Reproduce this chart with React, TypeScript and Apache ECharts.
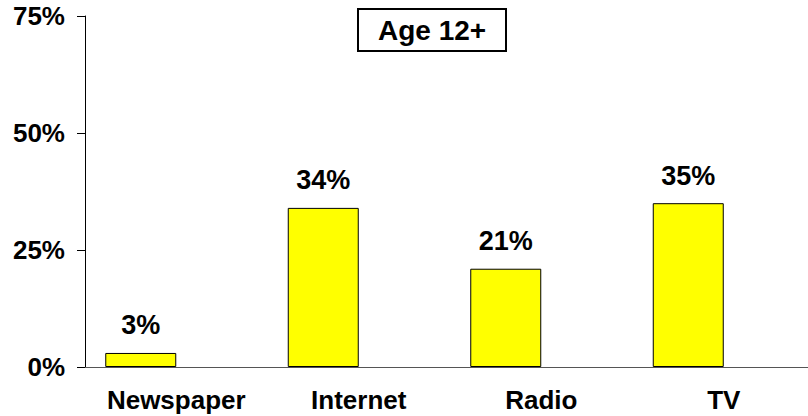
import React, { useEffect, useRef } from "react";
import * as echarts from "echarts";

const categories = ["Newspaper", "Internet", "Radio", "TV"];
const values = [3, 34, 21, 35];
const yTicks = [0, 25, 50, 75];
const titleText = "Age 12+";

const FONT = "'Liberation Sans', Arial, sans-serif";

export default function App() {
  const ref = useRef<HTMLDivElement>(null);
  useEffect(() => {
    if (!ref.current) return;
    const chart = echarts.init(ref.current, null, { renderer: "svg" });
    chart.setOption({
      animation: false,
      backgroundColor: "#ffffff",
      title: {
        text: titleText,
        left: 358,
        top: 9,
        padding: [7, 20, 7, 20],
        borderColor: "#000",
        borderWidth: 2,
        textStyle: { fontFamily: FONT, fontWeight: "bold", fontSize: 28, color: "#000" },
      },
      grid: { left: 85, top: 16, bottom: 49, width: 730 },
      xAxis: {
        type: "category",
        data: categories,
        axisLine: { lineStyle: { color: "#555", width: 1 } },
        axisTick: { show: false },
        axisLabel: {
          margin: 20,
          fontFamily: FONT,
          fontWeight: "bold",
          fontSize: 26,
          color: "#000",
          interval: 0,
        },
      },
      yAxis: {
        type: "value",
        min: yTicks[0],
        max: yTicks[yTicks.length - 1],
        interval: 25,
        splitLine: { show: false },
        axisLine: { show: true, lineStyle: { color: "#000", width: 1 } },
        axisTick: { show: true, length: 8, lineStyle: { color: "#000" } },
        axisLabel: {
          margin: 20,
          fontFamily: FONT,
          fontWeight: "bold",
          fontSize: 26,
          color: "#000",
          formatter: "{value}%",
        },
      },
      series: [
        {
          type: "bar",
          data: values,
          barWidth: 71,
          barGap: "0%",
          itemStyle: { color: "#FFFF00", borderColor: "#000", borderWidth: 1 },
          label: {
            show: true,
            position: "top",
            distance: 14,
            formatter: "{c}%",
            fontFamily: FONT,
            fontWeight: "bold",
            fontSize: 27,
            color: "#000",
          },
        },
        {
          type: "bar",
          data: values.map(() => "-"),
          barWidth: 71,
          silent: true,
          itemStyle: { color: "transparent" },
        },
      ],
    });
    return () => chart.dispose();
  }, []);
  return (
    <div style={{ width: 808, height: 416, position: "absolute", left: 0, top: 0, overflow: "hidden" }}>
      <div ref={ref} style={{ width: 820, height: 416 }} />
    </div>
  );
}
